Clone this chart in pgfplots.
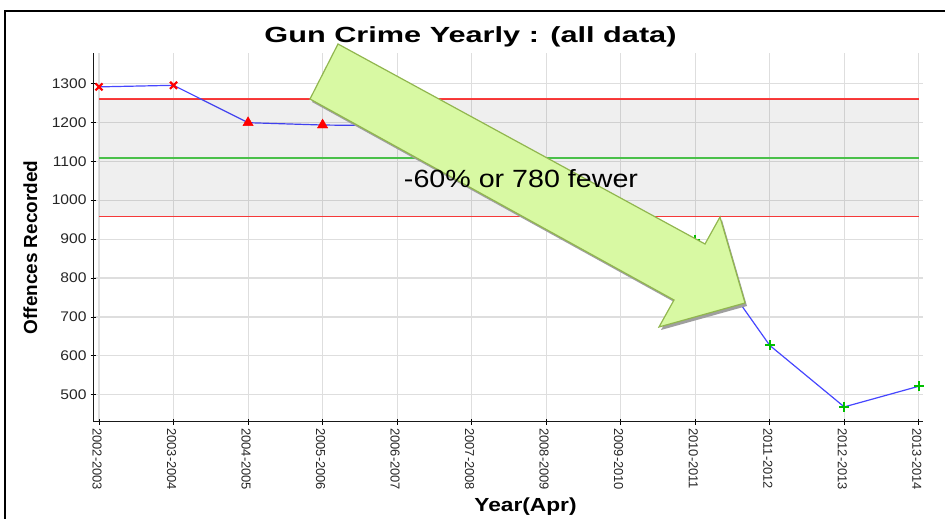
\documentclass[border=0pt]{standalone}
\usepackage{pgfplots}
\pgfplotsset{compat=1.18}
\usepackage{fontspec}
\setmainfont{Liberation Sans}

\definecolor{gridgray}{RGB}{222,222,222}
\definecolor{limred}{RGB}{255,60,60}
\definecolor{meangreen}{RGB}{80,205,80}
\definecolor{serblue}{RGB}{70,70,255}
\definecolor{arrowfill}{RGB}{216,249,163}
\definecolor{arrowedge}{RGB}{145,182,78}

% offences recorded per year (Apr-Mar)
\pgfplotstableread{
x y
0 1291
1 1295
2 1199
3 1193
4 1191
5 1110
6 1020
7 960
8 898
9 627
10 469
11 522
}\gundata

\begin{document}
\begin{tikzpicture}
\draw[line width=1.6bp] (5bp,0) -- (5bp,508bp) -- (945bp,508bp);

\begin{axis}[
  at={(93.5bp,97.3bp)}, anchor=south west,
  width=829bp, height=368.7bp, scale only axis,
  xmin=-0.074, xmax=11.05, ymin=431, ymax=1378,
  axis lines*=left,
  axis line style={line width=1.5bp, black!90},
  xtick={0,...,11},
  xticklabels={2002-2003,2003-2004,2004-2005,2005-2006,2006-2007,2007-2008,2008-2009,2009-2010,2010-2011,2011-2012,2012-2013,2013-2014},
  ytick={500,600,...,1300},
  grid=major, major grid style={gridgray, line width=1.1bp},
  tick align=center, major tick length=6bp,
  tick style={black, line width=0.9bp},
  /pgf/number format/assume math mode=true,
  /pgf/number format/1000 sep={},
  xticklabel style={rotate=-90, anchor=west, yshift=-2bp, font=\fontsize{13}{13}\selectfont, text=black!85},
  yticklabel style={font=\fontsize{14}{14}\selectfont, xscale=1.12, text=black!85},
]
\addplot[color=meangreen, line width=1.4bp, forget plot] coordinates {(0,1108) (11,1108)};
\addplot[color=limred, line width=1.4bp, forget plot] coordinates {(0,958) (11,958)};
\addplot[color=limred, line width=1.4bp, forget plot] coordinates {(0,1260) (11,1260)};

\addplot[color=serblue, line width=1.2bp] table {\gundata};
\addplot[only marks, mark=x, red, mark size=5, line width=2.2bp]
  coordinates {(0,1291) (1,1295)};
\addplot[only marks, mark=triangle*, red, mark size=6]
  coordinates {(2,1199) (3,1193) (4,1191) (5,1110) (6,1020) (7,960)};
\addplot[only marks, mark=+, green!75!black, mark size=5, line width=2.2bp]
  coordinates {(8,898) (9,627) (10,469) (11,522)};

% control band, translucent so the grid and lines show through
\addplot[fill=black, fill opacity=0.063, draw=none, forget plot]
  coordinates {(0,958) (11,958) (11,1260) (0,1260) (0,958)};
\end{axis}

\begin{scope}[x=1bp,y=1bp]
% annotation arrow
\fill[gray!75, shift={(2,-3)}] (338,475) -- (705,275) -- (720,302)
  -- (745,216) -- (659,192) -- (674,219) -- (310,420) -- cycle;
\filldraw[fill=arrowfill, draw=arrowedge, line width=1.2bp, line join=miter]
  (338,475) -- (705,275) -- (720,302) -- (745,216) -- (659,192) -- (674,219) -- (310,420) -- cycle;
\node[anchor=base, inner sep=0, font=\fontsize{25}{25}\selectfont, xscale=1.15] at (521,332) {-60\% or 780 fewer};

\node[anchor=base, inner sep=0, font=\bfseries\fontsize{22}{22}\selectfont, xscale=1.4] at (470.5,476.7) {Gun Crime Yearly : (all data)};
\node[anchor=base, inner sep=0, rotate=90, font=\bfseries\fontsize{19}{19}\selectfont] at (37,271.5) {Offences Recorded};
\node[anchor=base, inner sep=0, font=\bfseries\fontsize{19}{19}\selectfont, xscale=1.2] at (525.5,8) {Year(Apr)};
\end{scope}
\pgfresetboundingbox
\useasboundingbox (0,0) rectangle (945bp,519bp);
\end{tikzpicture}
\end{document}
